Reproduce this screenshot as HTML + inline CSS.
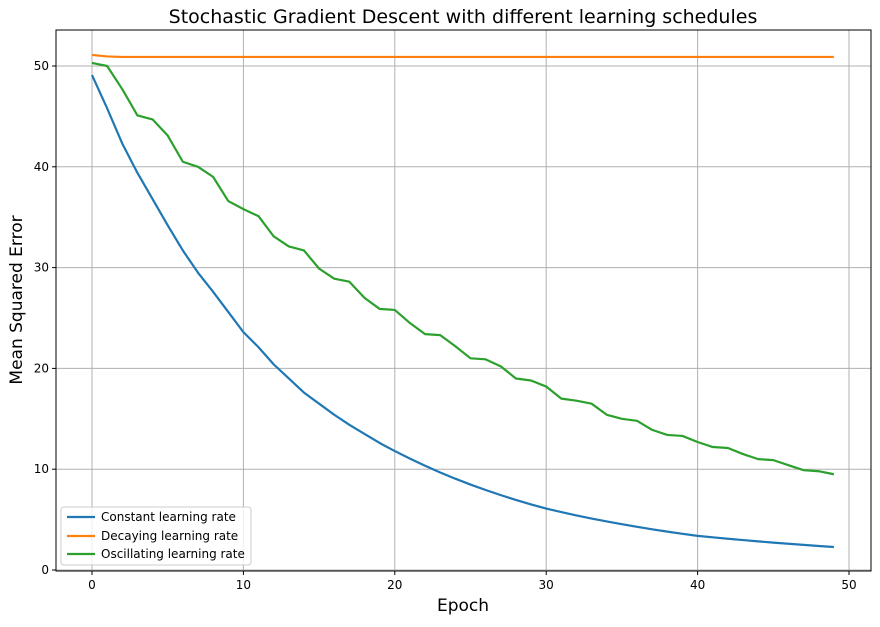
<!DOCTYPE html>
<html><head><meta charset="utf-8"><style>
body{margin:0;background:#fff;}
svg text{font-family:"DejaVu Sans","Liberation Sans",sans-serif;fill:#000;}
</style></head><body>
<svg id="s" width="880" height="622" xmlns="http://www.w3.org/2000/svg">
<rect width="880" height="622" fill="#fff"/>
<g id="grid" stroke="#b0b0b0" stroke-width="1"></g>
<g id="lines" fill="none" stroke-width="2.2" stroke-linejoin="round"></g>
<rect x="56" y="30" width="815" height="541" fill="none" stroke="#000" stroke-width="1"/>
<g id="ticks" font-size="12"></g>
<text x="463" y="23" font-size="19" text-anchor="middle">Stochastic Gradient Descent with different learning schedules</text>
<text x="463" y="611" font-size="17" text-anchor="middle">Epoch</text>
<text transform="translate(22,300) rotate(-90)" font-size="17" text-anchor="middle">Mean Squared Error</text>
<g>
<rect x="61" y="507" width="190" height="58" rx="3" fill="#fff" fill-opacity="0.8" stroke="#ccc"/>
<line x1="67" y1="517" x2="95" y2="517" stroke="#1f77b4" stroke-width="2.2"/>
<text x="101" y="521" font-size="12">Constant learning rate</text>
<line x1="67" y1="536" x2="95" y2="536" stroke="#ff7f0e" stroke-width="2.2"/>
<text x="101" y="540" font-size="12">Decaying learning rate</text>
<line x1="67" y1="554" x2="95" y2="554" stroke="#2ca02c" stroke-width="2.2"/>
<text x="101" y="558" font-size="12">Oscillating learning rate</text>
</g>
</svg>
<script>
const X=i=>92+15.14*i, Y=v=>570-10.08*v;
const NS="http://www.w3.org/2000/svg";
const g=document.getElementById('grid'),t=document.getElementById('ticks'),L=document.getElementById('lines');
function el(p,tag,a,txt){const e=document.createElementNS(NS,tag);for(const k in a)e.setAttribute(k,a[k]);if(txt!=null)e.textContent=txt;p.appendChild(e);}
for(let x=0;x<=50;x+=10){el(g,'line',{x1:X(x),x2:X(x),y1:30,y2:571});el(t,'line',{x1:X(x),x2:X(x),y1:571,y2:575,stroke:'#000'});el(t,'text',{x:X(x),y:589,'text-anchor':'middle'},x);}
for(let y=0;y<=50;y+=10){el(g,'line',{x1:56,x2:871,y1:Y(y),y2:Y(y)});el(t,'line',{x1:52,x2:56,y1:Y(y),y2:Y(y),stroke:'#000'});el(t,'text',{x:49,y:Y(y)+4,'text-anchor':'end'},y);}
const green=[50.3,50.0,47.7,45.1,44.7,43.1,40.5,40.0,39.0,36.6,35.8,35.1,33.1,32.1,31.7,29.9,28.9,28.6,27.0,25.9,25.8,24.5,23.4,23.3,22.2,21.0,20.9,20.2,19.0,18.8,18.2,17.0,16.8,16.5,15.4,15.0,14.8,13.9,13.4,13.3,12.7,12.2,12.1,11.5,11.0,10.9,10.4,9.9,9.8,9.5];
const blue=[49.1,45.8,42.3,39.4,36.8,34.2,31.7,29.5,27.6,25.6,23.6,22.1,20.4,19.0,17.6,16.5,15.4,14.4,13.5,12.6,11.8];
let v=11.8;for(let i=21;i<50;i++){const r=i<=30?0.936:(i<=40?0.943:0.957);v*=r;blue.push(v);}
const orange=[51.1,50.95];for(let i=2;i<50;i++)orange.push(50.9);
function pl(a,c){el(L,'polyline',{points:a.map((v,i)=>X(i)+','+Y(v)).join(' '),stroke:c});}
pl(blue,'#1f77b4');pl(orange,'#ff7f0e');pl(green,'#2ca02c');
</script>
</body></html>
